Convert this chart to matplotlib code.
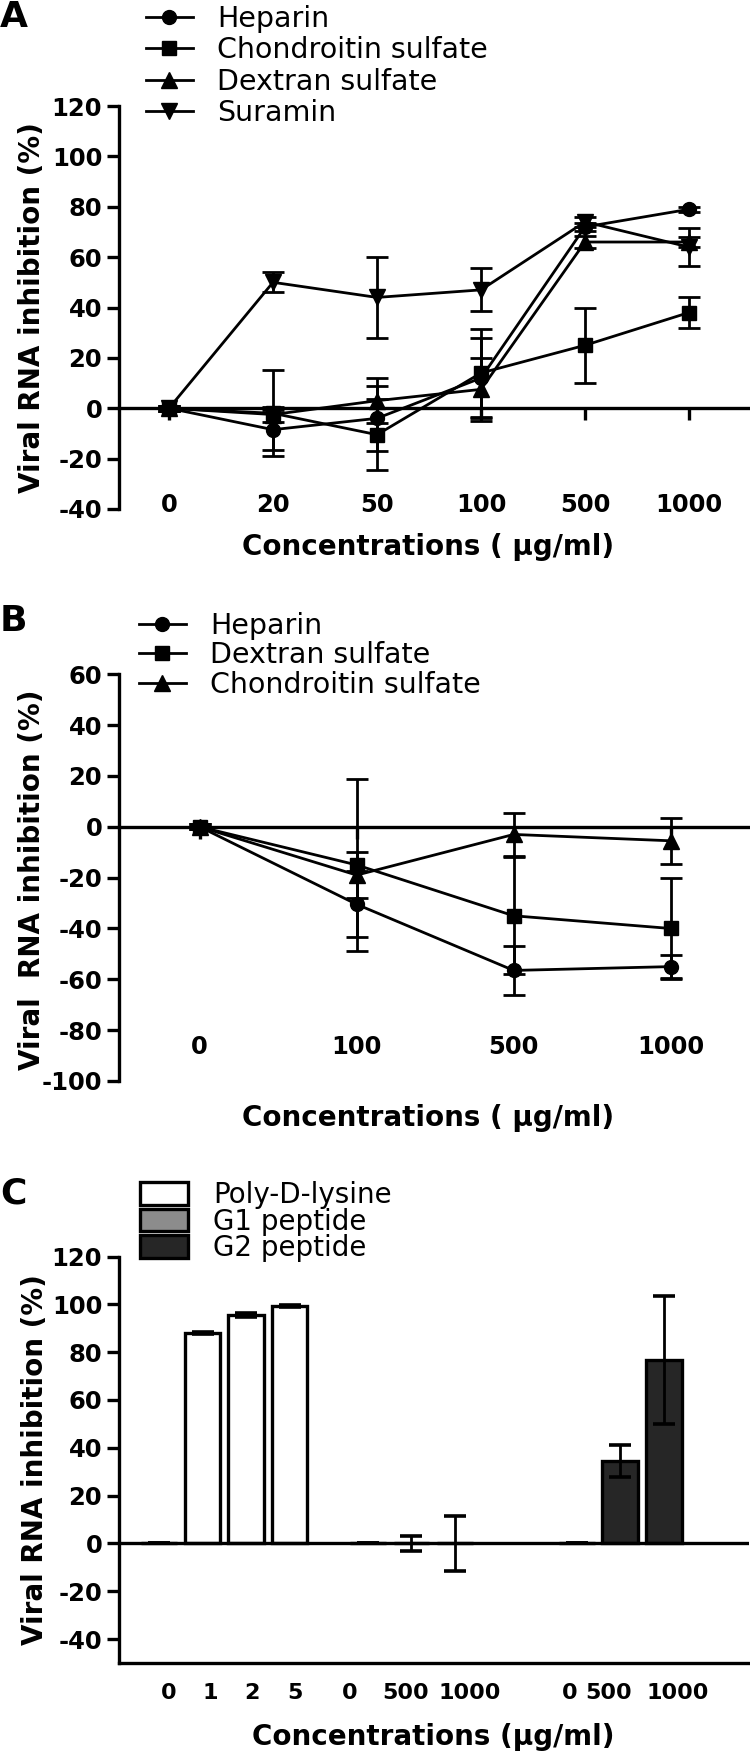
import numpy as np
import matplotlib.pyplot as plt

plt.rcParams['font.family'] = ['DejaVu Sans']
plt.rcParams['axes.unicode_minus'] = False

# ---- panel A data ----
conc_a = ['0', '20', '50', '100', '500', '1000']
heparin_a = [0, -8.5, -4, 12, 72, 79]
heparin_a_err = [1, 8, 13, 16, 1.5, 1]
chond_a = [0, -2, -10.5, 14, 25, 38]
chond_a_err = [1, 17, 14, 17.5, 15, 6]
dextran_a = [0, -2.5, 3, 7.5, 66, 66]
dextran_a_err = [1, 3, 9, 12.5, 2.5, 2]
suramin_a = [0, 50, 44, 47, 74, 64]
suramin_a_err = [1, 4, 16, 8.5, 2, 7.5]

# ---- panel B data ----
conc_b = ['0', '100', '500', '1000']
heparin_b = [0, -30.5, -56.5, -55]
heparin_b_err = [1, 13, 9.5, 4.5]
dextran_b = [0, -15, -35, -40]
dextran_b_err = [1, 34, 23, 20]
chond_b = [0, -19, -3, -5.5]
chond_b_err = [1, 9, 8.5, 9]

# ---- panel C data ----
poly_conc = ['0', '1', '2', '5']
poly_val = [0, 88, 95.5, 99.3]
poly_err = [0, 0.6, 1, 0.3]
g1_conc = ['0', '500', '1000']
g1_val = [0, 0, 0]
g1_err = [0, 3, 11.5]
g2_conc = ['0', '500', '1000']
g2_val = [0, 34.3, 76.7]
g2_err = [0, 6.7, 26.7]

W, H = 750, 1753
fig = plt.figure(figsize=(W / 100, H / 100), dpi=100)

LW = 2.4
DLW = 2.0
TICK_FS = 17.5
LAB_FS = 20
LEG_FS = 20.5


def px_axes(left, top, right, bottom):
    return fig.add_axes([left / W, 1 - bottom / H, (right - left) / W, (bottom - top) / H])


def style_axes(ax, yticks, xpad, zero_spine=True, xtick_len=8.6):
    for s in ['top', 'right']:
        ax.spines[s].set_visible(False)
    if zero_spine:
        ax.spines['bottom'].set_position(('data', 0))
    ax.spines['left'].set_linewidth(LW)
    ax.spines['bottom'].set_linewidth(LW)
    ax.tick_params(axis='both', direction='out', length=8.6, width=LW,
                   labelsize=TICK_FS, pad=3.5)
    ax.tick_params(axis='x', pad=xpad, length=xtick_len)
    ax.set_yticks(yticks, labels=[str(t) for t in yticks], fontweight='bold')


def line_series(ax, x, y, err, marker, ms, label):
    ax.errorbar(x, y, yerr=err, fmt='none', ecolor='black', elinewidth=DLW,
                capsize=8, capthick=DLW, zorder=3)
    ax.plot(x, y, color='black', lw=DLW, marker=marker, ms=ms,
            label=label, zorder=4, clip_on=False)


# ================= Panel A =================
axA = px_axes(119, 106, 749, 509)
xa = np.arange(len(conc_a))
line_series(axA, xa, heparin_a, heparin_a_err, 'o', 10, 'Heparin')
line_series(axA, xa, chond_a, chond_a_err, 's', 10, 'Chondroitin sulfate')
line_series(axA, xa, dextran_a, dextran_a_err, '^', 11, 'Dextran sulfate')
line_series(axA, xa, suramin_a, suramin_a_err, 'v', 11, 'Suramin')
axA.set_xlim(-0.481, 5.577)
axA.set_ylim(-40, 120)
style_axes(axA, list(range(-40, 121, 20)), xpad=52.5)
axA.set_xticks(xa, labels=conc_a, fontweight='bold')
axA.legend(loc='upper left', bbox_to_anchor=(146 / W, 1 - 5 / H),
           bbox_transform=fig.transFigure, frameon=False, fontsize=LEG_FS,
           handlelength=1.65, handletextpad=0.84, labelspacing=0.12,
           borderpad=0, borderaxespad=0)

# ================= Panel B =================
axB = px_axes(119, 674.3, 749, 1081)
xb = np.arange(len(conc_b))
line_series(axB, xb, heparin_b, heparin_b_err, 'o', 10, 'Heparin')
line_series(axB, xb, dextran_b, dextran_b_err, 's', 10, 'Dextran sulfate')
line_series(axB, xb, chond_b, chond_b_err, '^', 11, 'Chondroitin sulfate')
axB.set_xlim(-0.514, 3.499)
axB.set_ylim(-100, 60)
style_axes(axB, list(range(-100, 61, 20)), xpad=141)
axB.set_xticks(xb, labels=conc_b, fontweight='bold')
axB.legend(loc='upper left', bbox_to_anchor=(139 / W, 1 - 612 / H),
           bbox_transform=fig.transFigure, frameon=False, fontsize=LEG_FS,
           handlelength=1.65, handletextpad=0.84, labelspacing=0.05,
           borderpad=0, borderaxespad=0)

# ================= Panel C =================
axC = px_axes(119, 1256.5, 749, 1663)
x_poly = np.arange(len(poly_val)) + 0.0
x_g1 = np.arange(len(g1_val)) + 4.8
x_g2 = np.arange(len(g2_val)) + 9.6
bw = 0.82
axC.bar(x_poly, poly_val, width=bw, color='white', edgecolor='black', lw=LW,
        label='Poly-D-lysine', zorder=2)
axC.bar(x_g1, g1_val, width=bw, color='#8c8c8c', edgecolor='black', lw=LW,
        label='G1 peptide', zorder=2)
axC.bar(x_g2, g2_val, width=bw, color='#262626', edgecolor='black', lw=LW,
        label='G2 peptide', zorder=2)
for xs, vs, es in [(x_poly, poly_val, poly_err), (x_g1, g1_val, g1_err), (x_g2, g2_val, g2_err)]:
    axC.errorbar(xs, vs, yerr=es, fmt='none', ecolor='black', elinewidth=DLW,
                 capsize=8, capthick=2.6, zorder=3)
axC.axhline(0, color='black', lw=LW, zorder=4)
axC.set_xlim(-0.92, 13.56)
axC.set_ylim(-50, 120)
style_axes(axC, list(range(-40, 121, 20)), xpad=14.7, zero_spine=False, xtick_len=0)
tick_pos_c = [0.23, 1.17, 2.14, 3.13, 4.38, 5.67, 7.13, 9.43, 10.34, 11.91]
axC.set_xticks(tick_pos_c, labels=poly_conc + g1_conc + g2_conc,
               fontweight='bold', fontsize=16)
axC.legend(loc='upper left', bbox_to_anchor=(140 / W, 1 - 1181 / H),
           bbox_transform=fig.transFigure, frameon=False, fontsize=20,
           handlelength=1.73, handleheight=0.86, handletextpad=0.9,
           labelspacing=-0.05, borderpad=0, borderaxespad=0)

# ---- labels ----
fig.text(32 / W, 1 - 307.5 / H, 'Viral RNA inhibition (%)', rotation=90,
         ha='center', va='center', fontsize=LAB_FS, fontweight='bold')
fig.text(32 / W, 1 - 880 / H, 'Viral  RNA inhibition (%)', rotation=90,
         ha='center', va='center', fontsize=LAB_FS, fontweight='bold')
fig.text(35 / W, 1 - 1460 / H, 'Viral RNA inhibition (%)', rotation=90,
         ha='center', va='center', fontsize=LAB_FS, fontweight='bold')
fig.text(428 / W, 1 - 547 / H, 'Concentrations ( \u03bcg/ml)', ha='center',
         va='center', fontsize=LAB_FS, fontweight='bold')
fig.text(428 / W, 1 - 1118 / H, 'Concentrations ( \u03bcg/ml)', ha='center',
         va='center', fontsize=LAB_FS, fontweight='bold')
fig.text(433 / W, 1 - 1737 / H, 'Concentrations (\u03bcg/ml)', ha='center',
         va='center', fontsize=LAB_FS, fontweight='bold')

fig.text(0.0, 1.0, 'A', ha='left', va='top', fontsize=26, fontweight='bold')
fig.text(0.0, 1 - 604 / H, 'B', ha='left', va='top', fontsize=26, fontweight='bold')
fig.text(0.0, 1 - 1177 / H, 'C', ha='left', va='top', fontsize=26, fontweight='bold')

fig.savefig('out.png', dpi=100)
